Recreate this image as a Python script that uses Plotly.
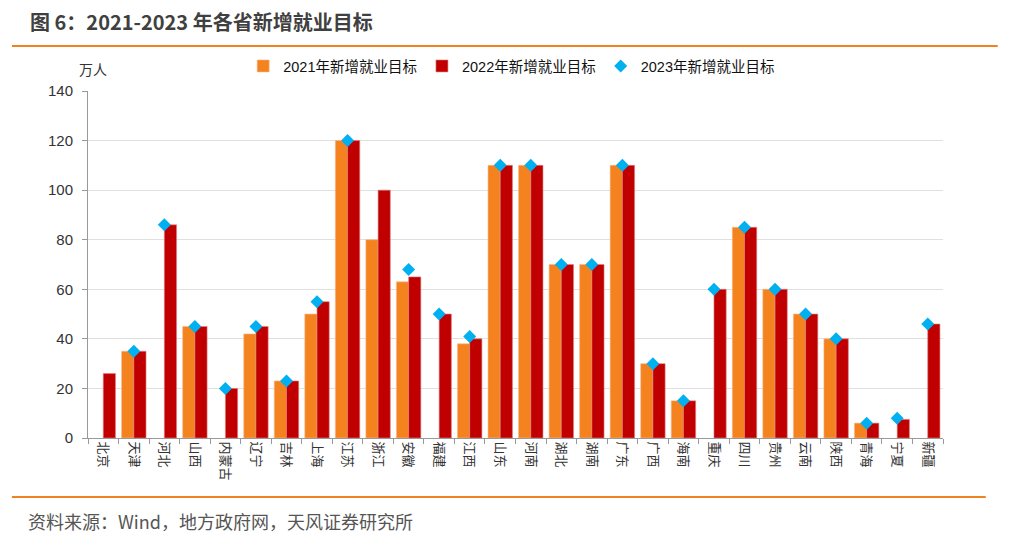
import plotly.graph_objects as go

provinces = ["北京", "天津", "河北", "山西", "内蒙古", "辽宁", "吉林", "上海", "江苏", "浙江",
             "安徽", "福建", "江西", "山东", "河南", "湖北", "湖南", "广东", "广西", "海南",
             "重庆", "四川", "贵州", "云南", "陕西", "青海", "宁夏", "新疆"]
target_2021 = [None, 35, None, 45, None, 42, 23, 50, 120, 80,
               63, None, 38, 110, 110, 70, 70, 110, 30, 15,
               None, 85, 60, 50, 40, 6, None, None]
target_2022 = [26, 35, 86, 45, 20, 45, 23, 55, 120, 100,
               65, 50, 40, 110, 110, 70, 70, 110, 30, 15,
               60, 85, 60, 50, 40, 6, 7.5, 46]
target_2023 = [None, 35, 86, 45, 20, 45, 23, 55, 120, None,
               68, 50, 41, 110, 110, 70, 70, 110, 30, 15,
               60, 85, 60, 50, 40, 6, 8, 46]
y_ticks = [0, 20, 40, 60, 80, 100, 120, 140]

FONT = "Liberation Sans, Arial, Noto Sans CJK SC, sans-serif"
CJK = "Noto Sans CJK SC, sans-serif"

fig = go.Figure()
fig.add_trace(go.Bar(x=provinces, y=target_2021, name="2021年新增就业目标",
                     marker=dict(color="#F4821F", line=dict(color="#F8B98A", width=0.6))))
fig.add_trace(go.Bar(x=provinces, y=target_2022, name="2022年新增就业目标",
                     marker=dict(color="#C00000", line=dict(color="#E08080", width=0.6))))
fig.add_trace(go.Scatter(x=provinces, y=target_2023, name="2023年新增就业目标", mode="markers",
                         marker=dict(symbol="diamond", size=10, color="#00B0F0")))

fig.update_layout(
    width=1011, height=542,
    paper_bgcolor="white", plot_bgcolor="white",
    margin=dict(l=80, r=76, t=83, b=112),
    barmode="group", bargap=0.2, bargroupgap=0.0,
    font=dict(family=FONT, size=14, color="#333333"),
    showlegend=True,
    legend=dict(orientation="h", x=0.1815, xanchor="left", y=1.072, yanchor="middle",
                font=dict(size=14.5, color="#111111", family=FONT), tracegroupgap=0,
                bgcolor="rgba(0,0,0,0)"),
    xaxis=dict(
        tickmode="array", tickvals=provinces, ticktext=provinces,
        range=[-0.5, len(provinces) - 0.5],
        tickson="boundaries", ticks="outside", ticklen=5, tickcolor="#999999",
        showline=True, linecolor="#999999", linewidth=1,
        tickfont=dict(size=13, color="#333333", family=CJK),
        tickangle=90, showgrid=False,
    ),
    yaxis=dict(
        range=[0, 140], tickvals=y_ticks, ticks="outside", ticklen=5, tickcolor="#999999",
        showline=True, linecolor="#999999", linewidth=1,
        showgrid=True, gridcolor="#E0E0E0", gridwidth=1, zeroline=False,
        tickfont=dict(size=15, color="#333333"), ticklabelstandoff=6,
    ),
)

fig.add_annotation(text="<b>图 6：2021-2023 年各省新增就业目标</b>", xref="paper", yref="paper",
                   x=-0.070, y=1.199, xanchor="left", yanchor="middle", showarrow=False,
                   font=dict(size=20, color="#404040", family=CJK))
fig.add_annotation(text="万人", xref="paper", yref="paper", x=0.006, y=1.063, xanchor="center",
                   yanchor="middle", showarrow=False,
                   font=dict(size=14, color="#333333", family=CJK))
fig.add_annotation(text="资料来源：Wind，地方政府网，天风证券研究所", xref="paper", yref="paper",
                   x=-0.072, y=-0.239, xanchor="left", yanchor="middle", showarrow=False,
                   font=dict(size=18, color="#555555", family=CJK))

fig.add_shape(type="line", xref="paper", yref="paper", x0=-0.089, x1=1.064, y0=1.1297, y1=1.1297,
              line=dict(color="#F08321", width=2))
fig.add_shape(type="line", xref="paper", yref="paper", x0=-0.089, x1=1.050, y0=-0.170, y1=-0.170,
              line=dict(color="#F08321", width=2))

fig.write_html("out.html")
